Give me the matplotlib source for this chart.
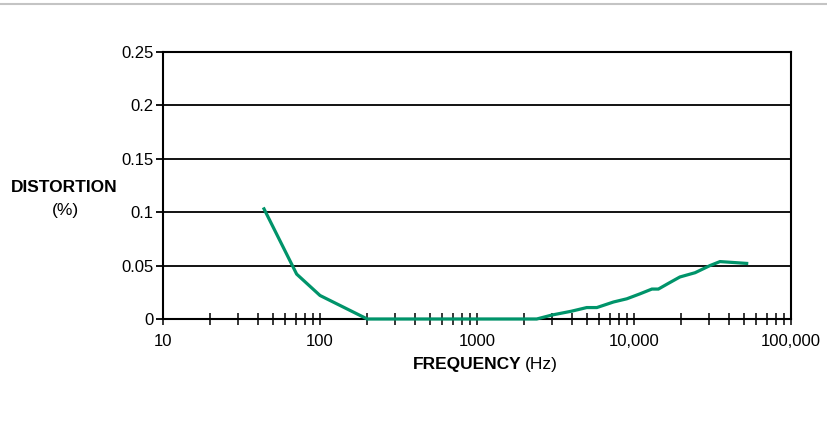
import matplotlib.pyplot as plt
from matplotlib.ticker import FixedLocator, FixedFormatter, NullFormatter
from matplotlib.lines import Line2D

plt.rcParams['font.family'] = ['Liberation Sans', 'DejaVu Sans']

# frequency response of distortion
freq = [44, 71, 100, 200, 2400, 3000, 4000, 5000, 5800, 7400, 9000, 10900,
        13000, 14300, 16500, 19600, 24500, 30500, 35300, 52200]
dist = [0.103, 0.042, 0.022, 0.0, 0.0, 0.0037, 0.0073, 0.0107, 0.0107, 0.0159,
        0.0189, 0.0235, 0.028, 0.028, 0.0332, 0.0393, 0.0433, 0.050, 0.0537, 0.052]

y_ticks = [0, 0.05, 0.1, 0.15, 0.2, 0.25]
y_labels = ['0', '0.05', '0.1', '0.15', '0.2', '0.25']
x_major = [10, 100, 1000, 10000, 100000]
x_labels = ['10', '100', '1000', '10,000', '100,000']

fig = plt.figure(figsize=(8.28, 4.37), dpi=100)
ax = fig.add_axes([163 / 828, 1 - 319 / 437, (791 - 163) / 828, (319 - 51.7) / 437])

# horizontal grid lines
for v in y_ticks[1:]:
    ax.axhline(v, color='black', lw=1.3, zorder=1)

ax.plot(freq, dist, color='#00946a', lw=2.3, solid_joinstyle='miter', zorder=3, clip_on=False)

ax.set_xscale('log')
ax.set_xlim(10, 100000)
ax.set_ylim(0, 0.25)

ax.xaxis.set_major_locator(FixedLocator(x_major))
ax.xaxis.set_major_formatter(FixedFormatter(x_labels))
minors = [m * d for d in [10, 100, 1000, 10000] for m in range(2, 10)]
ax.xaxis.set_minor_locator(FixedLocator(minors))
ax.xaxis.set_minor_formatter(NullFormatter())
ax.tick_params(axis='x', which='both', direction='inout', length=8, width=1.1,
               labelsize=12, pad=7, top=False)

ax.set_yticks(y_ticks)
ax.set_yticklabels(y_labels)
ax.tick_params(axis='y', direction='out', length=5, width=1.3, labelsize=12, pad=2)

for s in ax.spines.values():
    s.set_linewidth(1.5)
    s.set_color('black')

fig.text(64.5 / 828, 1 - 188 / 437, 'DISTORTION', fontsize=12.5, fontweight='bold',
         ha='center', va='center')
fig.text(65 / 828, 1 - 210 / 437, '(%)', fontsize=12.5, ha='center', va='center')

fig.text(521 / 828, 1 - 365 / 437, 'FREQUENCY', fontsize=12.5, fontweight='bold',
         ha='right', va='center')
fig.text(525 / 828, 1 - 365 / 437, '(Hz)', fontsize=12.5, ha='left', va='center')

# thin grey rule at the top of the page
fig.add_artist(Line2D([0, 1], [1 - 4 / 437, 1 - 4 / 437], transform=fig.transFigure,
                      color='#c4c4c4', lw=1.5))

fig.savefig('out.png', dpi=100)
